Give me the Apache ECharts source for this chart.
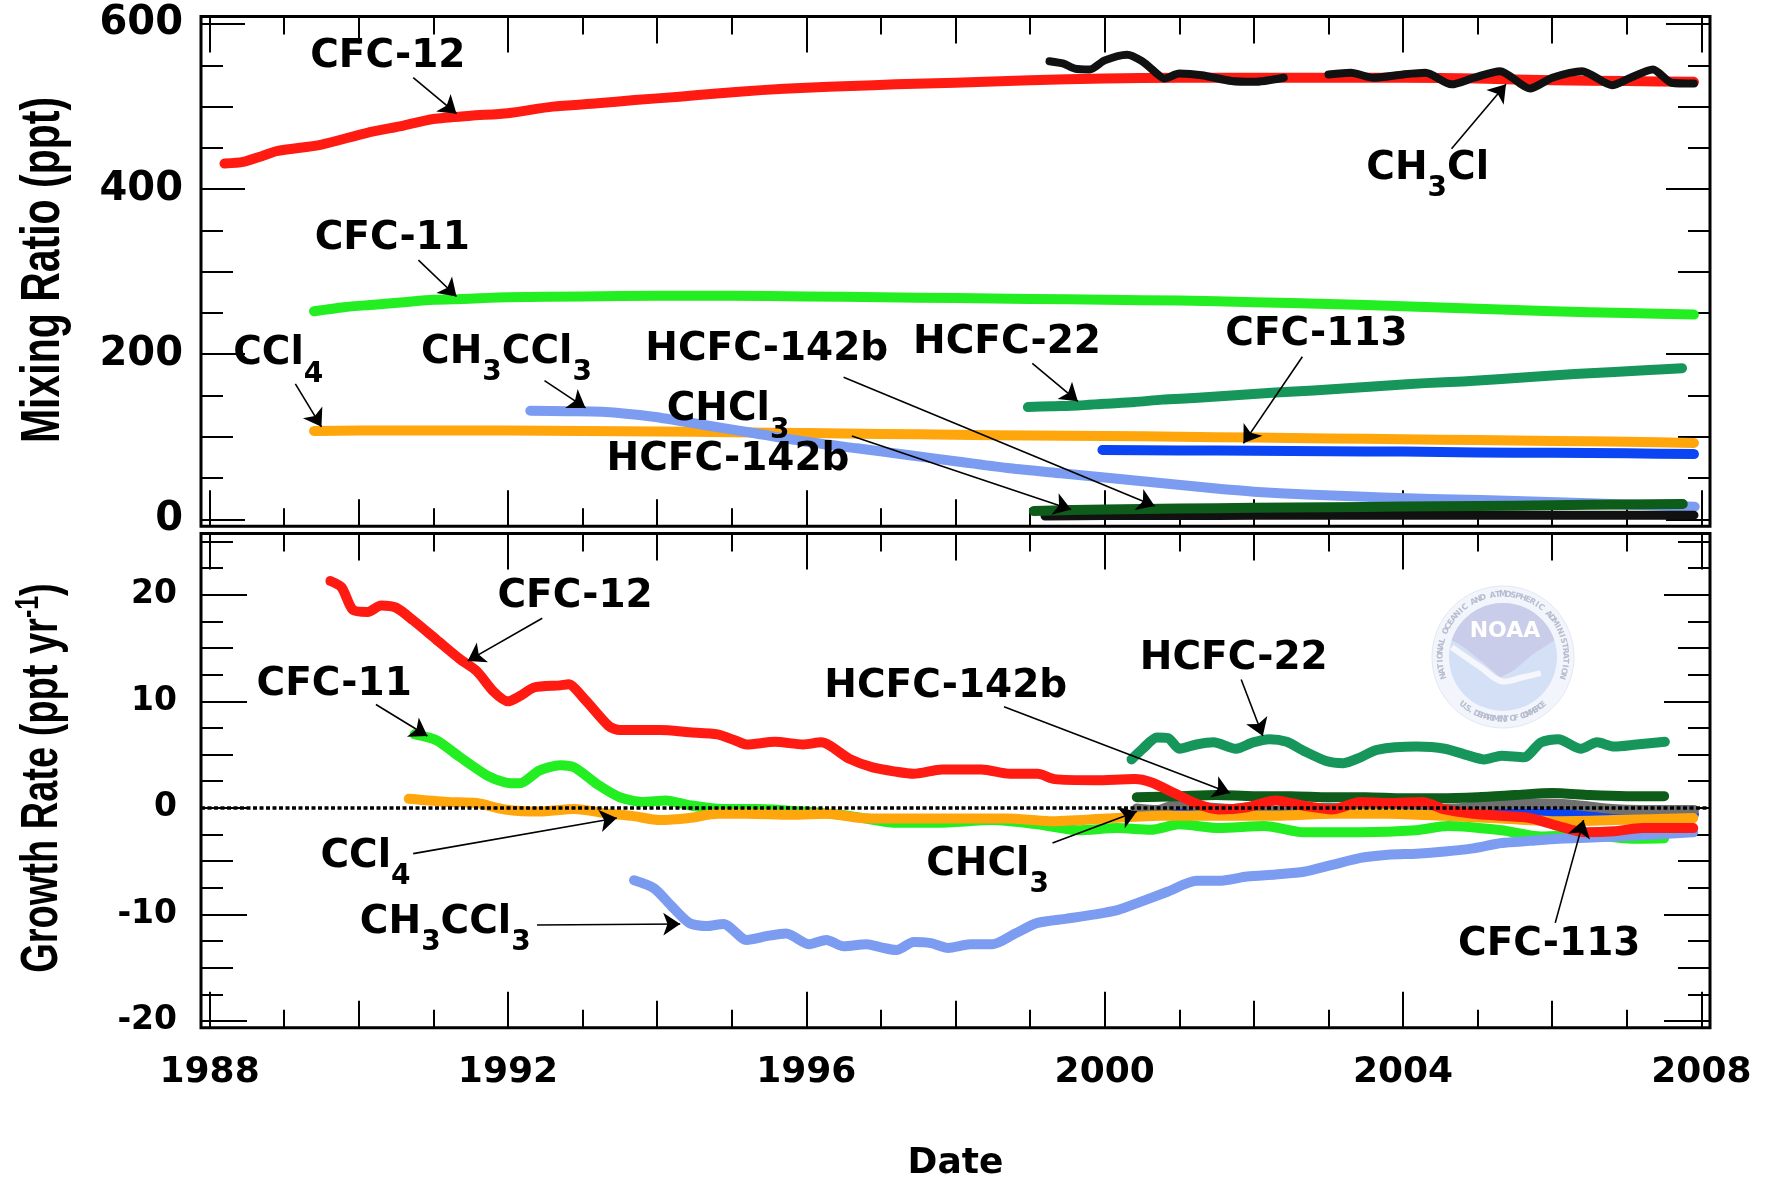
<!DOCTYPE html>
<html>
<head>
<meta charset="utf-8">
<title>Halocarbon mixing ratios and growth rates</title>
<script src="https://cdn.jsdelivr.net/npm/echarts@6/dist/echarts.min.js"></script>
<style>
  html, body { margin: 0; padding: 0; background: #ffffff; }
  #chart { width: 1766px; height: 1178px; }
</style>
</head>
<body>
<div id="chart"></div>
<script>
// ---------------- tick labels ----------------
const yearLabels = [1988, 1992, 1996, 2000, 2004, 2008];
const mixingLabels = [0, 200, 400, 600];
const growthLabels = [-20, -10, 0, 10, 20];

// ---------------- mixing ratios (ppt) : [year, value] ----------------
const cfc12Mixing = [[1988.2,431],[1988.45,433],[1988.7,440],[1988.9,446],[1989.5,454],[1990.1,468],[1990.6,477],[1991.0,485],[1991.5,489],[1992.0,492],[1992.6,500],[1993.2,504],[1993.7,508],[1994.3,512],[1994.8,516],[1995.4,520],[1996.0,523],[1996.6,525],[1997.2,527],[1998.0,529],[1999.0,532],[2000.0,534],[2001.0,535],[2002.0,535],[2003.0,535],[2004.0,535],[2005.0,534],[2006.0,532],[2007.0,531],[2007.9,530]];
const ch3clMixing = [[1999.26,555],[1999.45,552],[1999.6,546],[1999.8,545],[2000.0,556],[2000.3,563],[2000.5,555],[2000.7,540],[2000.8,534],[2001.0,540],[2001.3,538],[2001.7,531],[2002.0,530],[2002.4,535],[2002.7,null],[2003.0,539],[2003.3,541],[2003.6,535],[2004.0,539],[2004.3,541],[2004.65,527],[2004.95,535],[2005.3,543],[2005.7,522],[2006.0,535],[2006.4,543],[2006.8,526],[2007.05,535],[2007.35,545],[2007.6,529],[2007.9,528]];
const cfc11Mixing = [[1989.4,252],[1989.8,257],[1990.2,260],[1990.6,263],[1991.0,266],[1991.4,267],[1992.0,269],[1993.0,270],[1994.0,271],[1995.0,271],[1996.0,270],[1997.0,269],[1998.0,268],[1999.0,267],[2000.0,266],[2001.0,265],[2002.0,263],[2003.0,261],[2004.0,258],[2005.0,255],[2006.0,252],[2007.0,250],[2007.9,248]];
const ccl4Mixing = [[1989.4,107],[1990,107.5],[1991,107.5],[1992,107.5],[1993,107],[1994,106.5],[1995,105.5],[1996,104.5],[1997,103.5],[1998,102.5],[1999,101.5],[2000,101],[2001,100],[2002,99],[2003,98],[2004,97],[2005,96],[2006,95],[2007,94],[2007.9,92.5]];
const ch3ccl3Mixing = [[1992.3,131.5],[1992.8,131],[1993.26,130.4],[1993.95,124.3],[1994.63,114.3],[1995.31,104.2],[1996.0,94],[1996.68,86],[1997.36,77.9],[1998.05,69.8],[1998.73,61.8],[1999.41,55.7],[2000.1,49.7],[2000.78,43.6],[2001.46,37.6],[2002.0,33.5],[2002.7,30],[2003.4,27.5],[2004.05,25.4],[2004.7,24],[2005.39,22.5],[2006.28,20.1],[2007.1,17.5],[2007.91,15.3]];
const cfc113Mixing = [[1999.97,84],[2001,83.5],[2002,83],[2003,82.5],[2004,82],[2005,81],[2006,80.5],[2007,80],[2007.9,79]];
const hcfc22Mixing = [[1998.97,136],[1999.3,137],[1999.64,138],[2000.0,140],[2000.4,142],[2000.77,145],[2001.2,147],[2001.7,150],[2002.29,153.5],[2002.8,156],[2003.3,159],[2003.8,162],[2004.3,165],[2004.8,167],[2005.32,170],[2005.8,173],[2006.3,176],[2006.83,178.6],[2007.3,181],[2007.74,183]];
const hcfc142bMixing = [[1999.05,10],[2000,12],[2001,13],[2002,14],[2003,14.5],[2004,15.5],[2005,16],[2006,17],[2007,18],[2007.75,18.5]];
const chcl3Mixing = [[1999.2,4],[2000,4.5],[2001,4.5],[2002,5],[2003,5],[2004,5],[2005,5],[2006,5],[2007,5],[2007.9,5]];

// ---------------- growth rates (ppt/yr) : [year, value] ----------------
const cfc12Growth = [[1989.62,21.3],[1989.77,20.7],[1989.92,18.6],[1990.12,18.4],[1990.3,19.0],[1990.5,18.8],[1990.73,17.6],[1991.04,15.8],[1991.35,14.0],[1991.58,12.85],[1991.81,10.9],[1992.0,10.0],[1992.16,10.5],[1992.35,11.3],[1992.7,11.5],[1992.81,11.6],[1993.04,10.1],[1993.35,7.7],[1993.5,7.3],[1994.04,7.3],[1994.43,7.1],[1994.81,6.9],[1995.04,6.35],[1995.2,5.95],[1995.58,6.2],[1995.96,5.95],[1996.2,6.15],[1996.58,4.6],[1996.89,3.8],[1997.2,3.4],[1997.44,3.2],[1997.82,3.6],[1998.35,3.6],[1998.73,3.2],[1999.1,3.2],[1999.33,2.7],[1999.87,2.6],[2000.4,2.7],[2000.62,2.4],[2000.93,1.4],[2001.23,0.4],[2001.53,-0.15],[2001.91,0.05],[2002.29,0.7],[2002.67,0.2],[2003.05,-0.15],[2003.43,0.55],[2003.8,0.45],[2004.26,0.55],[2004.56,-0.15],[2004.94,-0.55],[2005.32,-0.75],[2005.7,-0.95],[2006.08,-1.7],[2006.45,-2.3],[2006.83,-2.2],[2007.21,-1.9],[2007.89,-1.9]];
const cfc11Growth = [[1990.75,6.9],[1991.04,6.35],[1991.35,4.8],[1991.73,3.0],[1991.96,2.4],[1992.16,2.3],[1992.42,3.5],[1992.7,4.0],[1992.89,3.8],[1993.2,2.2],[1993.5,1.0],[1993.81,0.55],[1994.12,0.7],[1994.43,0.25],[1994.89,-0.1],[1995.35,-0.1],[1995.96,-0.35],[1996.58,-0.75],[1997.2,-1.4],[1997.75,-1.4],[1998.5,-1.15],[1999.1,-1.55],[1999.64,-2.1],[2000.17,-1.9],[2000.62,-2.05],[2001.0,-1.55],[2001.53,-1.9],[2002.14,-1.7],[2002.67,-2.3],[2003.43,-2.3],[2004.18,-2.1],[2004.6,-1.7],[2005.32,-2.1],[2005.85,-2.7],[2006.45,-2.5],[2007.06,-2.9],[2007.5,-2.85]];
const ccl4Growth = [[1990.67,0.85],[1991.19,0.55],[1991.58,0.45],[1991.96,-0.15],[1992.42,-0.35],[1992.89,-0.1],[1993.35,-0.55],[1993.66,-0.75],[1994.04,-1.15],[1994.43,-0.95],[1994.81,-0.55],[1995.2,-0.55],[1995.81,-0.65],[1996.27,-0.55],[1996.73,-0.95],[1997.2,-1.0],[1998.0,-1.0],[1998.7,-1.0],[1999.26,-1.25],[2000.02,-1.0],[2000.77,-0.75],[2001.53,-0.75],[2002.29,-0.75],[2003.05,-0.55],[2003.8,-0.55],[2004.56,-0.75],[2005.32,-1.0],[2006.08,-1.25],[2006.83,-1.15],[2007.89,-0.95]];
const ch3ccl3Growth = [[1993.69,-6.8],[1993.96,-7.55],[1994.19,-9.2],[1994.43,-10.8],[1994.66,-11.1],[1994.89,-10.9],[1995.2,-12.4],[1995.5,-12.0],[1995.73,-11.8],[1996.04,-12.8],[1996.27,-12.4],[1996.5,-13.0],[1996.81,-12.8],[1997.0,-13.1],[1997.21,-13.35],[1997.44,-12.6],[1997.67,-12.7],[1997.9,-13.15],[1998.2,-12.8],[1998.5,-12.8],[1998.8,-11.8],[1999.1,-10.8],[1999.49,-10.4],[1999.87,-10.0],[2000.17,-9.6],[2000.47,-8.85],[2000.85,-7.85],[2001.23,-6.85],[2001.53,-6.85],[2001.91,-6.45],[2002.29,-6.25],[2002.67,-6.0],[2003.05,-5.35],[2003.43,-4.7],[2003.8,-4.4],[2004.18,-4.3],[2004.56,-4.1],[2004.94,-3.8],[2005.32,-3.3],[2005.7,-3.1],[2006.08,-2.9],[2006.83,-2.7],[2007.89,-2.3]];
const hcfc22Growth = [[2000.36,4.55],[2000.51,5.55],[2000.7,6.6],[2000.85,6.55],[2001.0,5.55],[2001.23,5.95],[2001.46,6.15],[2001.76,5.55],[2001.99,6.15],[2002.21,6.45],[2002.44,6.2],[2002.67,5.35],[2002.97,4.4],[2003.2,4.2],[2003.43,4.75],[2003.65,5.45],[2004.18,5.75],[2004.56,5.55],[2004.86,4.95],[2005.09,4.55],[2005.32,4.9],[2005.62,4.75],[2005.85,6.15],[2006.08,6.45],[2006.38,5.55],[2006.6,6.15],[2006.83,5.75],[2007.13,5.95],[2007.51,6.2]];
const hcfc142bGrowth = [[2000.43,1.0],[2001.0,1.1],[2001.5,1.2],[2002.0,1.1],[2002.5,1.1],[2003.0,1.0],[2003.5,1.0],[2004.0,0.9],[2004.5,0.9],[2005.0,1.0],[2005.5,1.2],[2006.0,1.4],[2006.5,1.2],[2007.0,1.1],[2007.5,1.1]];
const chcl3Growth = [[2000.43,-0.05],[2000.7,-0.2],[2001.0,0.4],[2001.3,0.1],[2001.7,-0.1],[2002.0,0.1],[2002.3,-0.3],[2002.7,-0.1],[2003.0,0.0],[2003.4,-0.2],[2003.8,-0.1],[2004.3,-0.1],[2004.8,0.0],[2005.2,0.3],[2005.6,0.4],[2006.0,0.4],[2006.4,0.2],[2006.8,-0.1],[2007.2,-0.2],[2007.9,-0.2]];
const cfc113Growth = [[2000.5,-0.2],[2001.0,-0.3],[2001.5,-0.4],[2002.0,-0.3],[2002.5,-0.4],[2003.0,-0.3],[2003.5,-0.3],[2004.0,-0.4],[2004.5,-0.4],[2005.0,-0.5],[2005.5,-0.5],[2006.0,-0.5],[2006.5,-0.5],[2007.0,-0.6],[2007.9,-0.6]];

// ---------------- annotation placement (data coordinates) ----------------
const topNotes = [
  { text: '{t|CFC-12}', at: [1990.39, 560] },
  { text: '{t|CFC-11}', at: [1990.45, 340] },
  { text: '{t|CCl}{s|4}', at: [1988.92, 200] },
  { text: '{t|CH}{s|3}{t|CCl}{s|3}', at: [1991.98, 202] },
  { text: '{t|HCFC-142b}', at: [1995.47, 205] },
  { text: '{t|CHCl}{s|3}', at: [1994.95, 132] },
  { text: '{t|HCFC-142b}', at: [1994.95, 72] },
  { text: '{t|HCFC-22}', at: [1998.69, 214] },
  { text: '{t|CFC-113}', at: [2002.84, 224] },
  { text: '{t|CH}{s|3}{t|Cl}', at: [2004.33, 425] }
];
const topArrows = [
  [[1990.73, 535], [1991.31, 491.5]],
  [[1990.8, 314], [1991.31, 270]],
  [[1989.15, 164], [1989.5, 112]],
  [[1992.49, 168], [1993.04, 135]],
  [[1996.5, 172], [2000.67, 16]],
  [[1996.61, 101], [1999.55, 12]],
  [[1999.03, 189], [1999.64, 143]],
  [[2002.65, 197], [2001.86, 92]],
  [[2004.65, 449], [2005.38, 527]]
];
const bottomNotes = [
  { text: '{t|CFC-12}', at: [1992.9, 19.84] },
  { text: '{t|CFC-11}', at: [1989.67, 11.58] },
  { text: '{t|CCl}{s|4}', at: [1990.09, -4.58] },
  { text: '{t|CH}{s|3}{t|CCl}{s|3}', at: [1991.16, -10.79] },
  { text: '{t|HCFC-142b}', at: [1997.87, 11.35] },
  { text: '{t|HCFC-22}', at: [2001.73, 14.03] },
  { text: '{t|CHCl}{s|3}', at: [1998.43, -5.38] },
  { text: '{t|CFC-113}', at: [2005.96, -12.85] }
];
const bottomArrows = [
  [[1992.46, 17.8], [1991.46, 13.8]],
  [[1990.23, 9.7], [1990.92, 6.75]],
  [[1990.73, -4.3], [1993.46, -0.95]],
  [[1992.39, -11.0], [1994.31, -10.9]],
  [[1998.65, 9.5], [2001.68, 1.4]],
  [[2001.83, 12.05], [2002.12, 6.75]],
  [[1999.3, -3.3], [2000.43, -0.35]],
  [[2006.04, -10.8], [2006.42, -1.15]]
];

// ---------------- axis extents ----------------
const X_RANGE = [1987.885, 2008.115];
const MIX_RANGE = [-8.36, 609.2];
const GROWTH_RANGE = [-20.65, 25.77];

const FONT = 'DejaVu Sans';
const TITLE_FONT = "'Liberation Sans', Arial, sans-serif";

function steps(lo, hi, step) {
  const out = [];
  for (let k = Math.ceil(lo / step - 1e-9); k * step <= hi + 1e-9; k++) out.push(+(k * step).toFixed(4));
  return out;
}

// an axis that only contributes inward tick marks of one length
function tickAxis(gridIndex, position, range, step, length, extra) {
  return Object.assign({
    type: 'value', gridIndex, position, offset: 0,
    min: range[0], max: range[1],
    axisLine: { show: false, onZero: false },
    splitLine: { show: false },
    axisTick: { show: true, inside: true, length, lineStyle: { color: '#000', width: 2 }, customValues: steps(range[0], range[1], step) },
    axisLabel: { show: false },
    silent: true
  }, extra || {});
}

const xLevels = [[4, 36], [2, 27], [1, 18]];
const mixLevels = [[200, 44], [100, 32], [50, 22]];
const growthLevels = [[10, 46], [5, 32], [2.5, 22]];
const plain = v => String(v);

const xAxes = [
  tickAxis(0, 'bottom', X_RANGE, 4, 36),
  tickAxis(1, 'bottom', X_RANGE, 4, 36, {
    axisLabel: { show: true, customValues: yearLabels, formatter: plain, margin: 27, color: '#000', fontFamily: FONT, fontWeight: 'bold', fontSize: 36 },
    name: 'Date', nameLocation: 'middle', nameGap: 118,
    nameTextStyle: { color: '#000', fontFamily: FONT, fontWeight: 'bold', fontSize: 36 }
  })
];
const yAxes = [
  tickAxis(0, 'left', MIX_RANGE, 200, 44, {
    axisLabel: { show: true, customValues: mixingLabels, formatter: plain, margin: 18, color: '#000', fontFamily: FONT, fontWeight: 'bold', fontSize: 40 }
  }),
  tickAxis(1, 'left', GROWTH_RANGE, 10, 46, {
    axisLabel: { show: true, customValues: growthLabels, formatter: plain, margin: 24, color: '#000', fontFamily: FONT, fontWeight: 'bold', fontSize: 33 }
  })
];
[0, 1].forEach(g => {
  xLevels.forEach(([step, len], i) => {
    ['bottom', 'top'].forEach(pos => {
      if (pos === 'bottom' && i === 0) return;
      xAxes.push(tickAxis(g, pos, X_RANGE, step, len));
    });
  });
  const yLevels = g === 0 ? mixLevels : growthLevels;
  const yRange = g === 0 ? MIX_RANGE : GROWTH_RANGE;
  yLevels.forEach(([step, len], i) => {
    ['left', 'right'].forEach(pos => {
      if (pos === 'left' && i === 0) return;
      yAxes.push(tickAxis(g, pos, yRange, step, len));
    });
  });
});

// ---------------- series ----------------
function curve(name, data, color, width, panel, extra) {
  return Object.assign({
    name, type: 'line', data, xAxisIndex: panel, yAxisIndex: panel,
    symbol: 'none', showSymbol: false, smooth: 0.25, connectNulls: false,
    lineStyle: { color, width, cap: 'round', join: 'round' },
    itemStyle: { color }, silent: true, animation: false,
    emphasis: { disabled: true }
  }, extra || {});
}

const noteRich = {
  t: { color: '#000', fontFamily: FONT, fontWeight: 'bold', fontSize: 39, lineHeight: 68, verticalAlign: 'middle' },
  s: { color: '#000', fontFamily: FONT, fontWeight: 'bold', fontSize: 28, lineHeight: 39, verticalAlign: 'bottom' }
};
function notesMarker(notes) {
  return {
    symbol: 'circle', symbolSize: 1, silent: true, animation: false,
    itemStyle: { color: 'rgba(0,0,0,0)' },
    label: { show: true, position: 'inside', rich: noteRich },
    data: notes.map(n => ({ name: n.text, coord: n.at, label: { formatter: n.text } }))
  };
}
function arrowsMarker(arrows) {
  return {
    silent: true, animation: false,
    symbol: ['none', 'arrow'], symbolSize: 17,
    lineStyle: { color: '#000', width: 1.6, type: 'solid' },
    label: { show: false }, emphasis: { disabled: true },
    data: arrows.map(a => [{ coord: a[0] }, { coord: a[1] }])
  };
}

const C = {
  red: '#ff1a12', green: '#22ee22', orange: '#ffa60d', lightBlue: '#7b9cf0',
  blue: '#0b44f2', hcfc22: '#16965a', darkGreen: '#0e5c1a', black: '#111111', grey: '#707070'
};

// dotted zero reference in the growth panel
const zeroLine = { color: '#000', width: 3.5, type: [4, 2.5], opacity: 1 };
const series = [
  // upper panel
  curve('CCl4', ccl4Mixing, C.orange, 10, 0),
  curve('CH3CCl3', ch3ccl3Mixing, C.lightBlue, 10, 0),
  curve('CHCl3', chcl3Mixing, C.black, 9, 0),
  curve('HCFC-142b', hcfc142bMixing, C.darkGreen, 10, 0),
  curve('CFC-113', cfc113Mixing, C.blue, 10, 0),
  curve('HCFC-22', hcfc22Mixing, C.hcfc22, 10, 0),
  curve('CFC-11', cfc11Mixing, C.green, 10, 0),
  curve('CFC-12', cfc12Mixing, C.red, 10, 0, { markPoint: notesMarker(topNotes), markLine: arrowsMarker(topArrows) }),
  curve('CH3Cl', ch3clMixing, C.black, 8, 0),
  // lower panel
  curve('CFC-113 rate', cfc113Growth, C.blue, 10, 1, {
    markLine: {
      silent: true, animation: false, symbol: ['none', 'none'],
      lineStyle: zeroLine,
      label: { show: false }, emphasis: { disabled: true },
      data: [{ yAxis: 0, lineStyle: zeroLine }]
    }
  }),
  curve('CHCl3 rate', chcl3Growth, C.grey, 10, 1),
  curve('HCFC-142b rate', hcfc142bGrowth, C.darkGreen, 10, 1),
  curve('CFC-11 rate', cfc11Growth, C.green, 10, 1),
  curve('CCl4 rate', ccl4Growth, C.orange, 10, 1),
  curve('CH3CCl3 rate', ch3ccl3Growth, C.lightBlue, 10, 1),
  curve('HCFC-22 rate', hcfc22Growth, C.hcfc22, 10, 1),
  curve('CFC-12 rate', cfc12Growth, C.red, 10, 1, { markPoint: notesMarker(bottomNotes), markLine: arrowsMarker(bottomArrows) })
];

// ---------------- rotated panel titles ----------------
function panelTitle(x, y, text, size, rich) {
  return {
    type: 'text', silent: true, x, y, rotation: Math.PI / 2, scaleY: 1.35, z: 10,
    style: Object.assign({
      text, fill: '#000', font: 'bold ' + size + 'px ' + TITLE_FONT,
      align: 'center', verticalAlign: 'middle'
    }, rich ? { rich } : {})
  };
}
const titles = [
  panelTitle(44, 270, 'Mixing Ratio (ppt)', 41),
  panelTitle(43, 778, '{a|Growth Rate (ppt yr}{s|-1}{a|)}', 38, {
    a: { fill: '#000', fontFamily: TITLE_FONT, fontWeight: 'bold', fontSize: 38, lineHeight: 46, verticalAlign: 'middle' },
    s: { fill: '#000', fontFamily: TITLE_FONT, fontWeight: 'bold', fontSize: 25, lineHeight: 14, verticalAlign: 'top' }
  })
];

// ---------------- agency seal (faint watermark) ----------------
function arcText(str, cx, cy, rr, fromDeg, toDeg, below) {
  const out = [];
  const n = str.length;
  for (let i = 0; i < n; i++) {
    const d = fromDeg + (toDeg - fromDeg) * (i + 0.5) / n;
    const t = d * Math.PI / 180;
    out.push({
      type: 'text', silent: true, z: 0,
      x: cx + rr * Math.cos(t), y: cy - rr * Math.sin(t),
      rotation: below ? t + Math.PI / 2 : t - Math.PI / 2,
      style: { text: str[i], fill: '#b7bdcf', font: 'bold 8px "DejaVu Sans"', align: 'center', verticalAlign: 'middle' }
    });
  }
  return out;
}
function seal(cx, cy, r) {
  const ri = r * 0.76;
  const rad = d => d * Math.PI / 180;
  const cap = [];
  for (let a = 162; a >= 18; a -= 4) cap.push([cx + ri * Math.cos(rad(a)), cy - ri * Math.sin(rad(a))]);
  cap.push([cx + ri * 0.55, cy - ri * 0.05], [cx + ri * 0.2, cy + ri * 0.25], [cx - ri * 0.05, cy + ri * 0.38],
           [cx - ri * 0.35, cy + ri * 0.12], [cx - ri * 0.75, cy - ri * 0.2]);
  return [
    { type: 'circle', silent: true, shape: { cx, cy, r }, style: { fill: '#f2f5fb', stroke: '#e3e8f3', lineWidth: 1 }, z: 0 },
    { type: 'circle', silent: true, shape: { cx, cy, r: ri }, style: { fill: '#d3e0f6' }, z: 0 },
    { type: 'polygon', silent: true, shape: { points: cap }, style: { fill: '#c9cde9' }, z: 0 },
    { type: 'polyline', silent: true, shape: { points: [[cx - ri * 0.95, cy - ri * 0.18], [cx - ri * 0.4, cy + ri * 0.2], [cx - ri * 0.02, cy + ri * 0.45], [cx + ri * 0.35, cy + ri * 0.38], [cx + ri * 0.7, cy + ri * 0.3]], smooth: 0.4 },
      style: { stroke: '#f5f7fc', lineWidth: 6, fill: null }, z: 0 },
    { type: 'text', silent: true, x: cx + 2, y: cy - ri * 0.48, z: 0,
      style: { text: 'NOAA', fill: '#ffffff', font: 'bold 22px "DejaVu Sans"', align: 'center', verticalAlign: 'middle' } }
  ].concat(
    arcText('NATIONAL OCEANIC AND ATMOSPHERIC ADMINISTRATION', cx, cy, r * 0.88, 200, -20, false),
    arcText('U.S. DEPARTMENT OF COMMERCE', cx, cy, r * 0.88, 228, 312, true)
  );
}

const chart = echarts.init(document.getElementById('chart'), null, { renderer: 'canvas' });
chart.setOption({
  backgroundColor: '#ffffff',
  animation: false,
  textStyle: { fontFamily: FONT },
  grid: [
    { left: 201, right: 56, top: 16.5, height: 509.7, show: true, borderColor: '#000', borderWidth: 3, backgroundColor: 'transparent', containLabel: false, outerBoundsMode: 'none' },
    { left: 201, right: 56, top: 533.4, height: 494.4, show: true, borderColor: '#000', borderWidth: 3, backgroundColor: 'transparent', containLabel: false, outerBoundsMode: 'none' }
  ],
  xAxis: xAxes,
  yAxis: yAxes,
  graphic: { elements: seal(1503, 657, 71).concat(titles) },
  series
});
</script>
</body>
</html>
